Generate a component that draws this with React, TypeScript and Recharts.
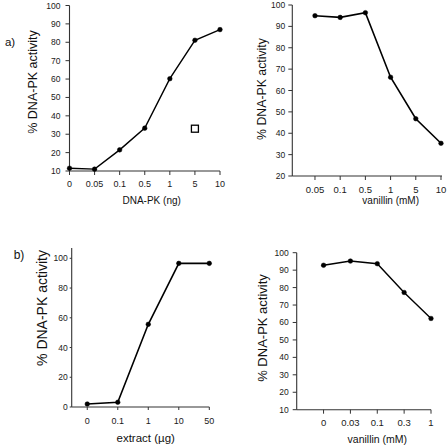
import React from 'react';
import { ComposedChart, Line, Scatter, XAxis, YAxis } from 'recharts';

// Panel a) left: DNA-PK titration
const dnaPkLabels = ['0', '0.05', '0.1', '0.5', '1', '5', '10'];
const dnaPkActivity = [11.5, 11, 21.5, 33.3, 60.2, 81.1, 86.9];
const openSquareCategory = '5';
const openSquareValue = 33;
const yTicksA = [10, 20, 30, 40, 50, 60, 70, 80, 90, 100];

// Panel a) right: vanillin inhibition
const vanillinALabels = ['0.05', '0.1', '0.5', '1', '5', '10'];
const vanillinAActivity = [95, 94.2, 96.4, 66.2, 46.8, 35.3];
const yTicksB = [20, 30, 40, 50, 60, 70, 80, 90, 100];

// Panel b) left: extract titration
const extractLabels = ['0', '0.1', '1', '10', '50'];
const extractActivity = [2, 3.2, 55.6, 96.6, 96.6];
const yTicksC = [0, 20, 40, 60, 80, 100];

// Panel b) right: vanillin inhibition
const vanillinBLabels = ['0', '0.03', '0.1', '0.3', '1'];
const vanillinBActivity = [92.8, 95.2, 93.7, 77.2, 62.3];
const yTicksD = [10, 20, 30, 40, 50, 60, 70, 80, 90, 100];

const FONT = "'Liberation Sans', Arial, Helvetica, sans-serif";
const AXIS = '#333';

const build = (labels: string[], values: number[]) =>
  labels.map((label, idx) => ({ idx, label, value: values[idx] }));

type PanelProps = {
  left: number;
  top: number;
  width: number;
  height: number;
  margin: { top: number; right: number; bottom: number; left: number };
  yWidth: number;
  xHeight: number;
  xDomain: [number, number];
  yDomain: [number, number];
  yTicks: number[];
  labels: string[];
  values: number[];
  xTickFont: number;
  yTickFont: number;
  xTickSize: number;
  xTickMargin: number;
  yTickSize: number;
  yTickMargin: number;
  strokeWidth: number;
  extra?: { idx: number; value: number }[];
};

function Panel(p: PanelProps) {
  const data = build(p.labels, p.values);
  const ticks = p.labels.map((_, i) => i);
  return (
    <div style={{ position: 'absolute', left: p.left, top: p.top, width: p.width, height: p.height }}>
      <ComposedChart width={p.width} height={p.height} data={data} margin={p.margin} style={{ overflow: 'visible' }}>
        <XAxis
          type="number"
          dataKey="idx"
          domain={p.xDomain}
          ticks={ticks}
          interval={0}
          tickFormatter={(v: number) => p.labels[Math.round(v)] ?? ''}
          height={p.xHeight}
          tickSize={p.xTickSize}
          tickMargin={p.xTickMargin}
          axisLine={{ stroke: AXIS, strokeWidth: 1.1 }}
          tickLine={{ stroke: AXIS, strokeWidth: 1 }}
          tick={{ fontSize: p.xTickFont, fill: '#1a1a1a', fontFamily: FONT }}
        />
        <YAxis
          type="number"
          domain={p.yDomain}
          ticks={p.yTicks}
          interval={0}
          width={p.yWidth}
          tickSize={p.yTickSize}
          tickMargin={p.yTickMargin}
          axisLine={{ stroke: AXIS, strokeWidth: 1.1 }}
          tickLine={{ stroke: AXIS, strokeWidth: 1 }}
          tick={{ fontSize: p.yTickFont, fill: '#1a1a1a', fontFamily: FONT }}
        />
        <Line
          type="linear"
          dataKey="value"
          stroke="#000"
          strokeWidth={p.strokeWidth}
          dot={{ r: 2.3, fill: '#000', stroke: '#000', strokeWidth: 0.5 }}
          activeDot={false}
          isAnimationActive={false}
        />
        {p.extra && (
          <Scatter
            data={p.extra}
            dataKey="value"
            isAnimationActive={false}
            shape={(s: any) => (
              <rect x={s.cx - 3.5} y={s.cy - 3.5} width={7} height={7} fill="#fff" stroke="#000" strokeWidth={1.3} />
            )}
          />
        )}
      </ComposedChart>
    </div>
  );
}

function YTitle({ cx, cy, size, text }: { cx: number; cy: number; size: number; text: string }) {
  return (
    <div
      style={{
        position: 'absolute',
        left: cx,
        top: cy,
        transform: 'translate(-50%, -50%) rotate(-90deg)',
        whiteSpace: 'nowrap',
        fontSize: size,
        fontFamily: FONT,
        color: '#111',
        lineHeight: 1,
      }}
    >
      {text}
    </div>
  );
}

function Text({ cx, cy, size, text }: { cx: number; cy: number; size: number; text: string }) {
  return (
    <div
      style={{
        position: 'absolute',
        left: cx,
        top: cy,
        transform: 'translate(-50%, -50%)',
        whiteSpace: 'nowrap',
        fontSize: size,
        fontFamily: FONT,
        color: '#111',
        lineHeight: 1,
      }}
    >
      {text}
    </div>
  );
}

export default function App() {
  const squareIdx = dnaPkLabels.indexOf(openSquareCategory);
  return (
    <div style={{ position: 'absolute', left: 0, top: 0, width: 447, height: 447, background: '#fff', overflow: 'hidden' }}>
      <Panel
        left={0}
        top={0}
        width={230}
        height={230}
        margin={{ top: 5.5, right: 10, bottom: 0, left: 0 }}
        yWidth={69.5}
        xHeight={59}
        xDomain={[0, 6]}
        yDomain={[10, 100]}
        yTicks={yTicksA}
        labels={dnaPkLabels}
        values={dnaPkActivity}
        xTickFont={9}
        yTickFont={8.5}
        xTickSize={4}
        xTickMargin={6}
        yTickSize={4}
        yTickMargin={5}
        strokeWidth={1.4}
        extra={[{ idx: squareIdx, value: openSquareValue }]}
      />
      <Panel
        left={230}
        top={0}
        width={217}
        height={230}
        margin={{ top: 5, right: 5, bottom: 0, left: 0 }}
        yWidth={62.3}
        xHeight={54}
        xDomain={[-0.9, 5.04]}
        yDomain={[20, 100]}
        yTicks={yTicksB}
        labels={vanillinALabels}
        values={vanillinAActivity}
        xTickFont={9.5}
        yTickFont={8.5}
        xTickSize={4}
        xTickMargin={6}
        yTickSize={4}
        yTickMargin={3}
        strokeWidth={1.6}
      />
      <Panel
        left={0}
        top={230}
        width={230}
        height={217}
        margin={{ top: 17.9, right: 20.7, bottom: 0, left: 0 }}
        yWidth={71.7}
        xHeight={40}
        xDomain={[-0.51, 4]}
        yDomain={[0, 107]}
        yTicks={yTicksC}
        labels={extractLabels}
        values={extractActivity}
        xTickFont={9}
        yTickFont={8.5}
        xTickSize={3}
        xTickMargin={8}
        yTickSize={2}
        yTickMargin={2}
        strokeWidth={1.6}
      />
      <Panel
        left={230}
        top={230}
        width={217}
        height={217}
        margin={{ top: 22.7, right: 16, bottom: 0, left: 0 }}
        yWidth={66.7}
        xHeight={37.3}
        xDomain={[-1, 4]}
        yDomain={[10, 100]}
        yTicks={yTicksD}
        labels={vanillinBLabels}
        values={vanillinBActivity}
        xTickFont={9.5}
        yTickFont={8.5}
        xTickSize={4}
        xTickMargin={5.5}
        yTickSize={4}
        yTickMargin={4}
        strokeWidth={1.4}
      />

      <Text cx={10} cy={43} size={11.5} text="a)" />
      <Text cx={19} cy={255} size={12} text="b)" />

      <YTitle cx={33.3} cy={81.7} size={12.5} text="% DNA-PK activity" />
      <YTitle cx={261.7} cy={89.3} size={12.3} text="% DNA-PK activity" />
      <YTitle cx={41.7} cy={307.5} size={14} text="% DNA-PK activity" />
      <YTitle cx={261.7} cy={327.5} size={13} text="% DNA-PK activity" />

      <Text cx={151.7} cy={201} size={10} text="DNA-PK  (ng)" />
      <Text cx={390.7} cy={201} size={10} text="vanillin (mM)" />
      <Text cx={145.7} cy={439.3} size={11.5} text="extract (µg)" />
      <Text cx={377.3} cy={439.3} size={10.5} text="vanillin (mM)" />
    </div>
  );
}
